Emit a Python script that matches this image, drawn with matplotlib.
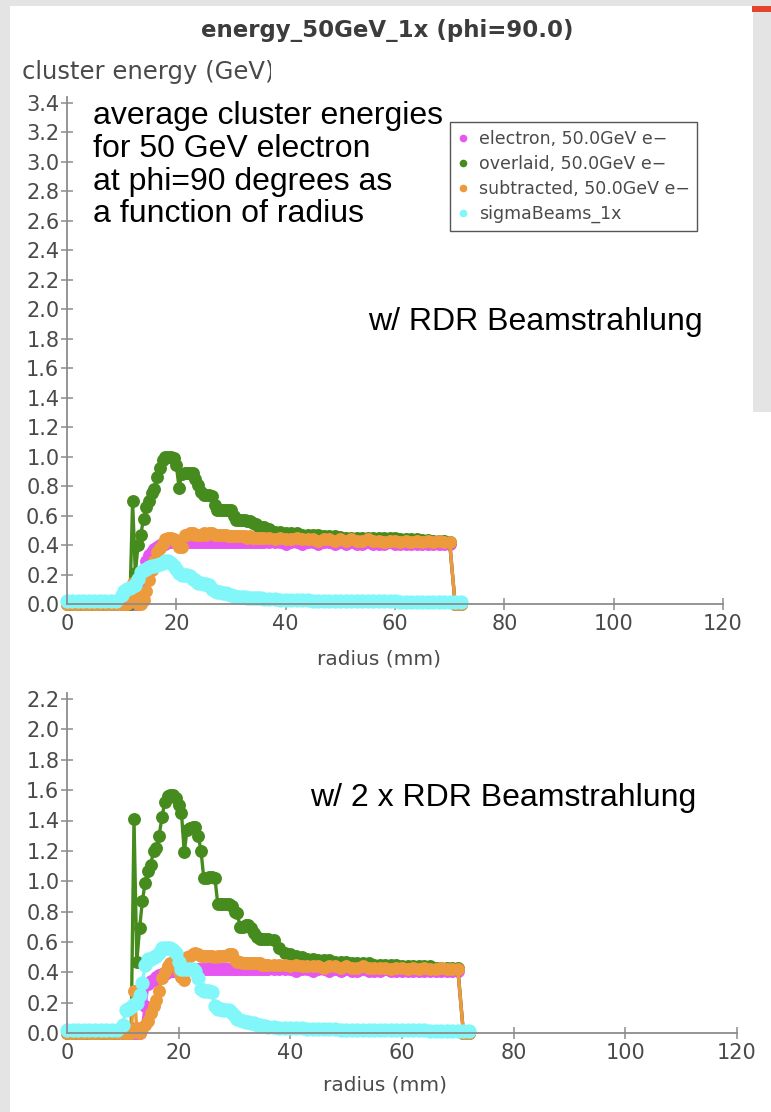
import matplotlib
matplotlib.use("Agg")
import matplotlib.pyplot as plt
from matplotlib.lines import Line2D
from matplotlib.patches import Rectangle
from matplotlib.transforms import Bbox

# ---------------- data ----------------
radius = [0, 1, 2, 3, 4, 5, 6, 7, 8, 9, 10,
          10.5, 11, 11.5, 12, 12.5, 13, 13.5, 14, 14.5, 15, 15.5, 16, 16.5, 17, 17.5,
          18, 18.5, 19, 19.5, 20, 20.5, 21, 21.5, 22, 22.5, 23, 23.5, 24, 24.5, 25,
          25.5, 26, 26.5, 27, 27.5, 28, 28.5, 29, 29.5, 30, 30.5, 31, 31.5, 32, 32.5,
          33, 33.5, 34, 34.5, 35, 35.5, 36,
          37, 38, 39, 40, 41, 42, 43, 44, 45, 46, 47, 48, 49, 50, 51, 52, 53, 54, 55,
          56, 57, 58, 59, 60, 61, 62, 63, 64, 65, 66, 67, 68, 69, 70, 71, 72]

# top panel (RDR beamstrahlung)
top_electron = [0, 0, 0, 0, 0, 0, 0, 0, 0, 0, 0,
                0, 0, 0, 0, 0, 0, 0.05, 0.16, 0.29, 0.33, 0.35, 0.37, 0.39, 0.40, 0.41,
                0.41, 0.42, 0.42, 0.42, 0.42, 0.41,
                0.42, 0.42, 0.42, 0.42, 0.42, 0.42, 0.42, 0.42, 0.42, 0.42, 0.42, 0.42, 0.42,
                0.42, 0.42, 0.42, 0.42, 0.42, 0.42, 0.42, 0.42, 0.42, 0.42, 0.42, 0.42, 0.42,
                0.42, 0.42, 0.42, 0.42, 0.42,
                0.42, 0.42, 0.42, 0.41, 0.42, 0.42, 0.41, 0.42, 0.42, 0.41, 0.42, 0.42, 0.41,
                0.42, 0.41, 0.42, 0.41, 0.41, 0.42, 0.41, 0.41, 0.41, 0.42, 0.41, 0.41, 0.41,
                0.41, 0.41, 0.41, 0.41, 0.41, 0.41, 0.41, 0.41, 0, 0]
top_overlaid = [0, 0, 0, 0, 0, 0, 0, 0, 0, 0, 0,
                0, 0, 0, 0.70, 0.21, 0.40, 0.47, 0.58, 0.66, 0.70, 0.75, 0.78, 0.86, 0.92, 0.98,
                1.00, 1.00, 1.00, 0.99, 0.94, 0.79,
                0.88, 0.89, 0.89, 0.89, 0.89, 0.85, 0.81, 0.76, 0.74, 0.74, 0.74, 0.73, 0.67,
                0.64, 0.64, 0.64, 0.64, 0.64, 0.64, 0.60, 0.57, 0.57, 0.57, 0.57, 0.56, 0.56,
                0.55, 0.54, 0.53, 0.52, 0.52,
                0.51, 0.49, 0.49, 0.48, 0.48, 0.48, 0.47, 0.47, 0.47, 0.47, 0.46, 0.46, 0.46,
                0.455, 0.45, 0.45, 0.45, 0.45, 0.45, 0.45, 0.445, 0.445, 0.445, 0.445, 0.44,
                0.44, 0.44, 0.44, 0.435, 0.435, 0.43, 0.43, 0.43, 0.42, 0, 0]
top_subtracted = [0, 0, 0, 0, 0, 0, 0, 0, 0, 0, 0,
                  0, 0, 0.02, 0.14, 0.08, 0, 0, 0.03, 0.09, 0.16, 0.23, 0.29, 0.35, 0.38, 0.41,
                  0.44, 0.45, 0.45, 0.44, 0.42, 0.39,
                  0.39, 0.47, 0.47, 0.48, 0.48, 0.47, 0.47, 0.47, 0.48, 0.47, 0.48, 0.48, 0.47,
                  0.47, 0.47, 0.47, 0.47, 0.46, 0.46, 0.46, 0.46, 0.46, 0.46, 0.46, 0.45, 0.46,
                  0.45, 0.45, 0.45, 0.45, 0.45,
                  0.45, 0.44, 0.45, 0.44, 0.44, 0.45, 0.44, 0.44, 0.44, 0.43, 0.44, 0.44, 0.43,
                  0.44, 0.43, 0.44, 0.43, 0.43, 0.44, 0.43, 0.43, 0.42, 0.43, 0.43, 0.42, 0.43,
                  0.42, 0.43, 0.42, 0.43, 0.42, 0.43, 0.42, 0.42, 0, 0]
top_sigma = [0.02, 0.02, 0.02, 0.02, 0.02, 0.02, 0.02, 0.02, 0.02, 0.02, 0.06,
             0.09, 0.10, 0.11, 0.12, 0.13, 0.17, 0.22, 0.23, 0.24, 0.25, 0.255, 0.26, 0.265,
             0.27, 0.28, 0.29, 0.29, 0.28, 0.26, 0.24, 0.21,
             0.20, 0.20, 0.20, 0.19, 0.17, 0.16, 0.14, 0.14, 0.135, 0.135, 0.13, 0.10, 0.085,
             0.08, 0.08, 0.075, 0.073, 0.07, 0.06, 0.055, 0.05, 0.05, 0.045, 0.045, 0.04,
             0.04, 0.04, 0.04, 0.04, 0.04, 0.035,
             0.035, 0.033, 0.03, 0.03, 0.027, 0.025, 0.025, 0.024, 0.023, 0.022, 0.022, 0.021,
             0.02, 0.02, 0.02, 0.02, 0.019, 0.019, 0.018, 0.018, 0.018, 0.017, 0.017, 0.017,
             0.016, 0.016, 0.016, 0.016, 0.015, 0.015, 0.015, 0.015, 0.015, 0.015, 0.015, 0.015]

# bottom panel (2 x RDR beamstrahlung)
bot_electron = [0, 0, 0, 0, 0, 0, 0, 0, 0, 0, 0,
                0, 0, 0, 0, 0, 0, 0.03, 0.18, 0.32, 0.34, 0.35, 0.37, 0.38, 0.39, 0.39,
                0.40, 0.41, 0.41, 0.41, 0.41, 0.41,
                0.41, 0.42, 0.42, 0.42, 0.42, 0.42, 0.42, 0.42, 0.42, 0.42, 0.42, 0.42, 0.42,
                0.42, 0.42, 0.42, 0.42, 0.42, 0.42, 0.42, 0.42, 0.42, 0.42, 0.42, 0.42, 0.42,
                0.42, 0.42, 0.42, 0.42, 0.42,
                0.42, 0.42, 0.42, 0.42, 0.41, 0.42, 0.42, 0.41, 0.42, 0.42, 0.41, 0.42, 0.41,
                0.42, 0.41, 0.41, 0.42, 0.41, 0.41, 0.41, 0.42, 0.41, 0.41, 0.41, 0.41, 0.41,
                0.41, 0.41, 0.41, 0.41, 0.41, 0.41, 0.41, 0.41, 0, 0]
bot_overlaid = [0, 0, 0, 0, 0, 0, 0, 0, 0, 0, 0,
                0, 0, 0.03, 1.41, 0.47, 0.69, 0.87, 0.99, 1.07, 1.11, 1.20, 1.22, 1.30, 1.42, 1.52,
                1.56, 1.57, 1.57, 1.55, 1.50, 1.45,
                1.19, 1.34, 1.35, 1.36, 1.36, 1.30, 1.20, 1.02, 1.02, 1.03, 1.03, 1.02, 0.85,
                0.85, 0.85, 0.85, 0.85, 0.84, 0.80, 0.79, 0.70, 0.70, 0.71, 0.71, 0.69, 0.66,
                0.63, 0.62, 0.62, 0.62, 0.62,
                0.61, 0.56, 0.53, 0.52, 0.51, 0.50, 0.49, 0.49, 0.48, 0.48, 0.48, 0.47, 0.47,
                0.47, 0.46, 0.46, 0.46, 0.46, 0.45, 0.45, 0.45, 0.45, 0.45, 0.44, 0.44, 0.44,
                0.44, 0.44, 0.44, 0.43, 0.43, 0.43, 0.43, 0.43, 0, 0]
bot_subtracted = [0, 0, 0, 0, 0, 0, 0, 0, 0, 0, 0,
                  0, 0, 0, 0.28, 0.03, 0, 0.03, 0.05, 0.08, 0.13, 0.18, 0.22, 0.28, 0.36, 0.40,
                  0.44, 0.46, 0.47, 0.44, 0.40, 0.37,
                  0.35, 0.50, 0.51, 0.52, 0.53, 0.52, 0.51, 0.51, 0.51, 0.51, 0.51, 0.50, 0.51,
                  0.51, 0.51, 0.51, 0.52, 0.52, 0.48, 0.47, 0.47, 0.46, 0.46, 0.46, 0.46, 0.46,
                  0.46, 0.46, 0.45, 0.45, 0.45,
                  0.45, 0.45, 0.45, 0.44, 0.45, 0.44, 0.44, 0.44, 0.44, 0.43, 0.44, 0.44, 0.43,
                  0.44, 0.43, 0.43, 0.44, 0.43, 0.43, 0.43, 0.43, 0.42, 0.43, 0.43, 0.42, 0.43,
                  0.42, 0.43, 0.42, 0.42, 0.43, 0.42, 0.42, 0.42, 0, 0]
bot_sigma = [0.02, 0.02, 0.02, 0.02, 0.02, 0.02, 0.02, 0.02, 0.02, 0.02, 0.05,
             0.15, 0.16, 0.17, 0.19, 0.20, 0.25, 0.33, 0.45, 0.49, 0.49, 0.50, 0.51, 0.53,
             0.56, 0.56, 0.56, 0.56, 0.55, 0.53, 0.47, 0.42,
             0.42, 0.42, 0.42, 0.42, 0.41, 0.36, 0.29, 0.28, 0.28, 0.28, 0.27, 0.18, 0.16,
             0.16, 0.15, 0.15, 0.15, 0.13, 0.11, 0.09, 0.085, 0.08, 0.075, 0.07, 0.065,
             0.064, 0.055, 0.05, 0.045, 0.045, 0.04,
             0.04, 0.035, 0.035, 0.03, 0.03, 0.03, 0.028, 0.027, 0.026, 0.025, 0.025, 0.024,
             0.023, 0.022, 0.022, 0.021, 0.02, 0.02, 0.02, 0.02, 0.019, 0.019, 0.018, 0.018,
             0.018, 0.017, 0.017, 0.017, 0.016, 0.016, 0.016, 0.015, 0.015, 0.015, 0.015, 0.015]

series_labels = ["electron, 50.0GeV e\u2212", "overlaid, 50.0GeV e\u2212",
                 "subtracted, 50.0GeV e\u2212", "sigmaBeams_1x"]
series_colors = ["#E657F2", "#468B1E", "#EC9A3C", "#82F7FA"]
marker_sizes = [9.3, 9.3, 9.3, 10.3]

x_ticks = [0, 20, 40, 60, 80, 100, 120]
top_y_ticks = [0.0, 0.2, 0.4, 0.6, 0.8, 1.0, 1.2, 1.4, 1.6, 1.8, 2.0, 2.2, 2.4, 2.6,
               2.8, 3.0, 3.2, 3.4]
bot_y_ticks = [0.0, 0.2, 0.4, 0.6, 0.8, 1.0, 1.2, 1.4, 1.6, 1.8, 2.0, 2.2]

# ---------------- figure ----------------
W, H = 771, 1112
fig = plt.figure(figsize=(W / 100, H / 100), dpi=100)
fig.patch.set_facecolor("white")
# textured gray border of the slide screenshot
fig.patches.append(Rectangle((0, 0), 10 / W, 1, transform=fig.transFigure,
                             facecolor="#e4e4e4", edgecolor="none", zorder=-5))
fig.patches.append(Rectangle((0, 1 - 6 / H), 1, 6 / H, transform=fig.transFigure,
                             facecolor="#e4e4e4", edgecolor="none", zorder=-5))
fig.patches.append(Rectangle((753 / W, 1 - 412 / H), 18 / W, 412 / H, transform=fig.transFigure,
                             facecolor="#e4e4e4", edgecolor="none", zorder=-5))
fig.patches.append(Rectangle((752 / W, 1 - 12 / H), 19 / W, 6 / H, transform=fig.transFigure,
                             facecolor="#E2452B", edgecolor="none", zorder=-4))

TXT = "#4a4a4a"
SPINE = "#8c8c8c"


def px_rect(left, right, y0, y1):
    return [left / W, 1 - y0 / H, (right - left) / W, (y0 - y1) / H]


def style(ax, yticks, ymax):
    ax.set_xlim(0, 120)
    ax.set_ylim(0, ymax)
    ax.set_facecolor("none")
    for s in ("top", "right"):
        ax.spines[s].set_visible(False)
    for s in ("left", "bottom"):
        ax.spines[s].set_color(SPINE)
        ax.spines[s].set_linewidth(1.3)
    ax.spines["left"].set_bounds(0, ymax)
    ax.set_xticks(x_ticks)
    ax.set_yticks(yticks)
    ax.set_yticklabels([f"{v:.1f}" for v in yticks])
    ax.tick_params(axis="both", direction="inout", length=9, width=1.1, color=SPINE,
                   labelcolor=TXT, labelsize=15)
    ax.tick_params(axis="y", pad=1)
    ax.tick_params(axis="x", pad=3)
    ax.set_xlabel("radius (mm)", fontsize=14.5, color=TXT)


def draw(ax, data):
    for vals, col, ms in zip(data, series_colors, marker_sizes):
        ax.plot(radius, vals, color=col, lw=2.4, marker="o", markersize=ms,
                markeredgewidth=0, clip_on=False)


ax1 = fig.add_axes(px_rect(67, 723, 604, 97))
style(ax1, top_y_ticks, 3.44)
draw(ax1, [top_electron, top_overlaid, top_subtracted, top_sigma])
ax1.xaxis.set_label_coords(0.475, -0.09)

ax2 = fig.add_axes(px_rect(67, 737, 1033, 693))
style(ax2, bot_y_ticks, 2.24)
draw(ax2, [bot_electron, bot_overlaid, bot_subtracted, bot_sigma])
ax2.xaxis.set_label_coords(0.475, -0.125)

# title and y label
fig.text(387 / W, 1 - 30 / H, "energy_50GeV_1x (phi=90.0)", ha="center", va="center",
         fontsize=16.5, fontweight="bold", color="#3c3c3c")
yl = fig.text(22 / W, 1 - 72 / H, "cluster energy (GeV)", ha="left", va="center",
              fontsize=17.5, color=TXT)
yl.set_clip_box(Bbox.from_extents(0, 0, 271, H))
yl.set_clip_on(True)

# annotations
fig.text(93 / W, 1 - 101 / H,
         "average cluster energies\nfor 50 GeV electron\nat phi=90 degrees as\na function of radius",
         ha="left", va="top", fontsize=23, family="Liberation Sans", color="black",
         linespacing=1.12)
fig.text(368 / W, 1 - 322 / H, "w/ RDR Beamstrahlung", ha="left", va="center",
         fontsize=23, family="Liberation Sans", color="black")
fig.text(310 / W, 1 - 798 / H, "w/ 2 x RDR Beamstrahlung", ha="left", va="center",
         fontsize=23, family="Liberation Sans", color="black")

# legend
handles = [Line2D([], [], ls="none", marker="o", markersize=5.5, markeredgewidth=0, color=c)
           for c in series_colors]
leg = fig.legend(handles, series_labels, loc="upper left",
                 bbox_to_anchor=(450 / W, 1 - 122 / H), bbox_transform=fig.transFigure,
                 borderaxespad=0, fontsize=12.5, frameon=True, fancybox=False,
                 framealpha=1, edgecolor="#555555", handlelength=0.6, handletextpad=0.6,
                 labelspacing=0.4, borderpad=0.45)
leg.get_frame().set_linewidth(1.0)
for t in leg.get_texts():
    t.set_color(TXT)

fig.savefig("out.png", dpi=100, facecolor=fig.get_facecolor())
